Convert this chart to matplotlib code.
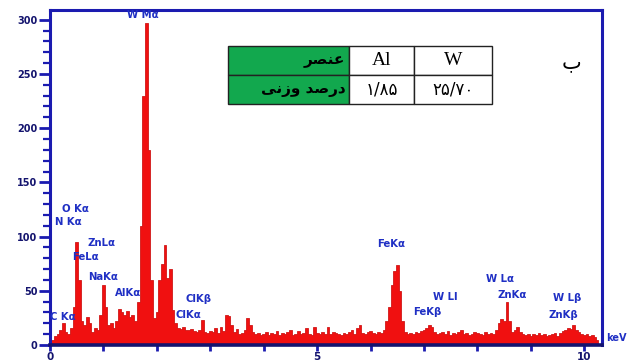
import numpy as np
import matplotlib
matplotlib.use("Agg")
import matplotlib.pyplot as plt
from matplotlib.ticker import MultipleLocator, FixedLocator

# EDS spectrum: counts per 0.05 keV channel, starting at 0 keV
channel_start = 0.0
channel_width = 0.05
counts = [
    0, 5, 8, 10, 14, 20, 12, 10, 16, 35, 95, 60, 22, 18, 26, 20, 12, 16, 14, 28,
    55, 35, 18, 20, 16, 22, 33, 30, 28, 31, 26, 28, 22, 40, 110, 230, 297, 180, 60, 25,
    30, 60, 75, 92, 62, 70, 32, 20, 16, 15, 17, 14, 14, 15, 13, 12, 14, 23, 12, 11,
    13, 12, 16, 11, 17, 13, 28, 27, 18, 12, 15, 10, 11, 14, 25, 18, 12, 10, 11, 9,
    10, 12, 9, 11, 10, 13, 9, 11, 10, 12, 14, 9, 10, 13, 10, 11, 16, 10, 9, 17,
    11, 10, 12, 10, 17, 10, 12, 11, 10, 9, 11, 10, 12, 14, 10, 16, 18, 11, 10, 12,
    13, 11, 10, 12, 11, 14, 22, 35, 55, 68, 74, 50, 22, 12, 10, 11, 10, 12, 11, 13,
    14, 16, 18, 17, 12, 10, 11, 12, 10, 13, 9, 11, 10, 12, 14, 10, 11, 9, 10, 12,
    11, 10, 9, 12, 10, 11, 10, 14, 20, 24, 22, 40, 22, 12, 14, 17, 12, 10, 9, 10,
    8, 10, 9, 11, 9, 10, 8, 9, 10, 11, 8, 11, 13, 14, 16, 15, 18, 14, 12, 10,
    9, 10, 8, 9, 7, 5,
]
energy = channel_start + channel_width * np.arange(len(counts))

# Peak identifications: (text, energy of left edge, counts level)
peak_labels = ["W M\u03b1", "O K\u03b1", "N K\u03b1", "ZnL\u03b1", "FeL\u03b1", "NaK\u03b1",
               "AlK\u03b1", "C K\u03b1", "ClK\u03b2", "ClK\u03b1", "FeK\u03b1", "W Ll",
               "FeK\u03b2", "W L\u03b1", "ZnK\u03b1", "W L\u03b2", "ZnK\u03b2"]
peak_label_x = [1.45, 0.22, 0.09, 0.71, 0.41, 0.71, 1.22, 0.0, 2.53, 2.34, 6.12, 7.17,
                6.80, 8.15, 8.37, 9.42, 9.33]
peak_label_y = [304, 125, 113, 94, 81, 63, 48, 26, 42, 28, 93, 44, 30, 61, 46, 43, 28]

# Composition table (Persian, written in visual order with presentation forms)
row_headers = ["\uFEAE\uFEBC\uFEE8\uFECB",
               "\uFEF0\uFEE7\uFEAF\uFEED \uFEAA\uFEBB\uFEAD\uFEA9"]
elements = ["Al", "W"]
weight_percent = ["\u06F1/\u06F8\u06F5", "\u06F2\u06F5/\u06F7\u06F0"]
panel_letter = "\u0628"

y_ticks = [0, 50, 100, 150, 200, 250, 300]
x_ticks = [0, 5, 10]

BLUE = "#1b1bb0"
NAVY = "#14146e"
TEXT_BLUE = "#1f2fc4"
RED = "#f01010"
GREEN = "#12a84e"

fig = plt.figure(figsize=(6.33, 3.63), dpi=100)
ax = fig.add_axes([50 / 633, 18 / 363, 552 / 633, 335 / 363])

ax.fill_between(energy, counts, 0, step="mid", facecolor=RED,
                edgecolor="#c80000", linewidth=0.5)

ax.set_xlim(0, 10.33)
ax.set_ylim(0, 309)

for side in ["left", "top", "right"]:
    ax.spines[side].set_color(BLUE)
    ax.spines[side].set_linewidth(2.2)
ax.spines["bottom"].set_color(NAVY)
ax.spines["bottom"].set_linewidth(2.6)

ax.yaxis.set_major_locator(FixedLocator(y_ticks))
ax.yaxis.set_minor_locator(MultipleLocator(10))
ax.xaxis.set_major_locator(FixedLocator(x_ticks))
ax.xaxis.set_minor_locator(MultipleLocator(1))
ax.tick_params(axis="y", which="major", length=8, width=2, color=BLUE,
               labelsize=7, labelcolor=NAVY, pad=1)
ax.tick_params(axis="y", which="minor", length=5, width=1.6, color=BLUE)
ax.tick_params(axis="x", which="both", length=4, width=2, color=BLUE,
               labelsize=7.5, labelcolor=NAVY, pad=1)
for lab in ax.get_xticklabels() + ax.get_yticklabels():
    lab.set_fontweight("bold")

for txt, px, py in zip(peak_labels, peak_label_x, peak_label_y):
    ax.text(px, py, txt, ha="left", va="center", fontsize=7.3,
            fontweight="bold", color=TEXT_BLUE, clip_on=False)

ax.annotate("keV", xy=(1.008, 6), xycoords=("axes fraction", "data"),
            ha="left", va="center", fontsize=7, fontweight="bold",
            color=TEXT_BLUE, annotation_clip=False)

ax.text(0.945, 0.845, panel_letter, transform=ax.transAxes, ha="center",
        va="center", fontsize=15, family=["DejaVu Sans"], color="black")

cell_text = [[row_headers[0]] + elements, [row_headers[1]] + weight_percent]
table = ax.table(cellText=cell_text, bbox=[0.3225, 0.7194, 0.478, 0.173],
                 colWidths=[0.458, 0.246, 0.295], cellLoc="center")
table.auto_set_font_size(False)
for (r, c), cell in table.get_celld().items():
    cell.set_edgecolor("#222222")
    cell.set_linewidth(1.0)
    t = cell.get_text()
    if c == 0:
        cell.set_facecolor(GREEN)
        t.set_ha("right")
        cell.PAD = 0.03
        t.set_fontsize(11)
        t.set_fontweight("bold")
        t.set_fontfamily(["DejaVu Sans"])
    elif r == 0:
        cell.set_facecolor("white")
        t.set_fontsize(14)
        t.set_fontfamily(["Liberation Serif"])
    else:
        cell.set_facecolor("white")
        t.set_fontsize(12)
        t.set_fontfamily(["DejaVu Sans"])

fig.savefig("out.png", dpi=100)
